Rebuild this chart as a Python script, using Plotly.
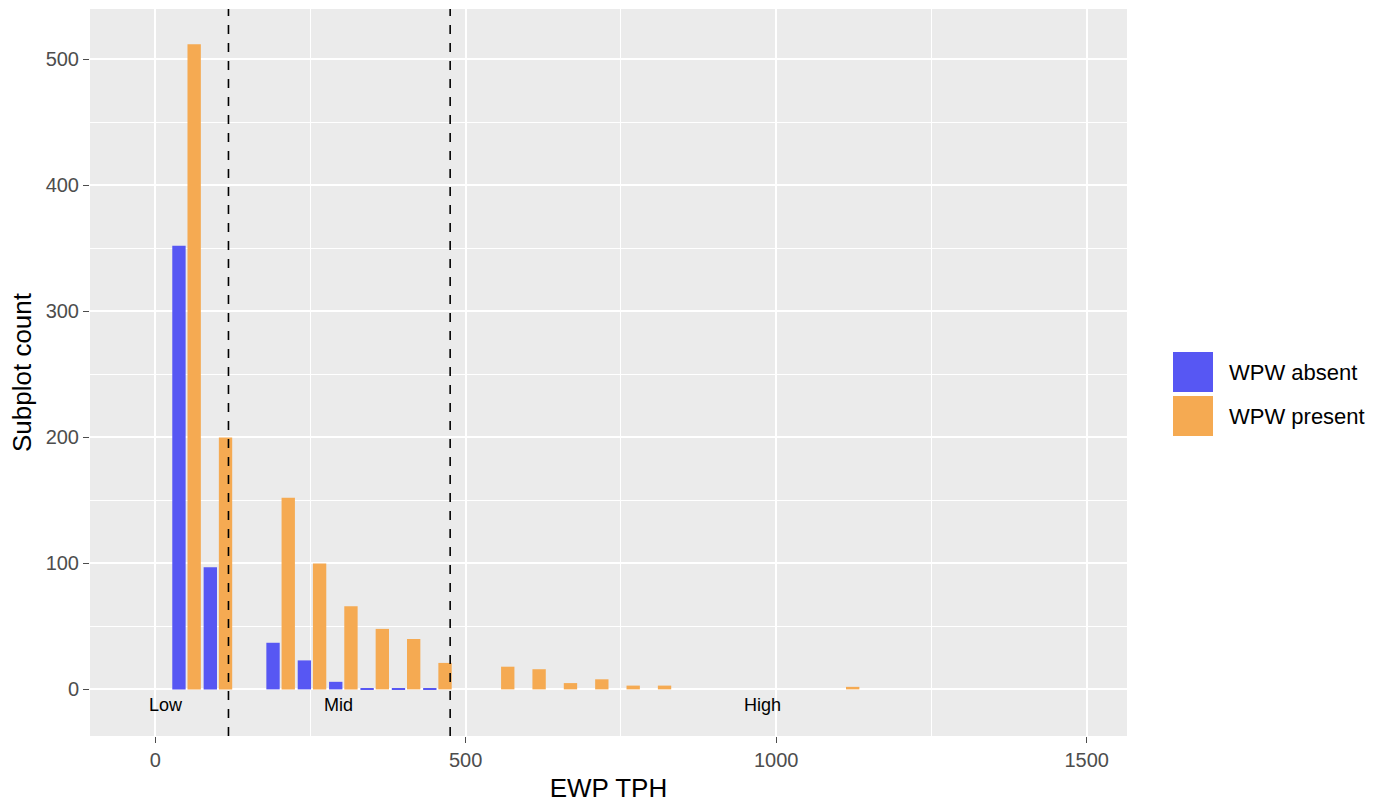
import plotly.graph_objects as go

# ---- data ----
tph_bins = [50.5, 101, 202, 252.5, 303, 353.5, 404, 454.5, 555.5, 606, 656.5, 707, 757.5, 808, 1111]
wpw_absent = [352, 97, 37, 23, 6, 1, 1, 1, 0, 0, 0, 0, 0, 0, 0]
wpw_present = [512, 200, 152, 100, 66, 48, 40, 21, 18, 16, 5, 8, 3, 3, 2]
series_names = ["WPW absent", "WPW present"]
series_colors = ["#5757F3", "#F5AA52"]
class_breaks = [118, 475]
class_labels = ["Low", "Mid", "High"]
class_label_x = [17, 295, 978]
x_ticks = [0, 500, 1000, 1500]
y_ticks = [0, 100, 200, 300, 400, 500]

FONT = "Liberation Sans, Arial, sans-serif"

fig = go.Figure()
fig.add_trace(go.Bar(x=tph_bins, y=wpw_absent, name=series_names[0],
                     marker=dict(color=series_colors[0], line=dict(width=0)),
                     offset=-23, width=21.5, showlegend=False))
fig.add_trace(go.Bar(x=tph_bins, y=wpw_present, name=series_names[1],
                     marker=dict(color=series_colors[1], line=dict(width=0)),
                     offset=1.5, width=21.5, showlegend=False))

for xb in class_breaks:
    fig.add_shape(type="line", x0=xb, x1=xb, y0=0, y1=1, xref="x", yref="paper",
                  line=dict(color="black", width=1.6, dash="dash"), layer="above")

for lab, lx in zip(class_labels, class_label_x):
    fig.add_annotation(x=lx, y=-12, text=lab, showarrow=False, xref="x", yref="y",
                       font=dict(family=FONT, size=18, color="black"))

# custom legend (ggplot-style large keys)
key_px = 40
fig_w, fig_h = 1391, 811
ml, mr, mt, mb = 90, 264, 9, 75
pw, ph = fig_w - ml - mr, fig_h - mt - mb
def px_to_paper(xp, yp):
    return (xp - ml) / pw, 1 - (yp - mt) / ph
key_tops = [352, 396]
for name, col, top in zip(series_names, series_colors, key_tops):
    x0, y0 = px_to_paper(1173, top)
    x1, y1 = px_to_paper(1173 + key_px, top + key_px)
    fig.add_shape(type="rect", xref="paper", yref="paper", x0=x0, x1=x1, y0=y1, y1=y0,
                  fillcolor=col, line=dict(width=0))
    tx, ty = px_to_paper(1227, top + key_px / 2)
    fig.add_annotation(xref="paper", yref="paper", x=tx, y=ty, text=name, showarrow=False,
                       xanchor="left", yanchor="middle",
                       font=dict(family=FONT, size=22, color="black"))

fig.update_layout(
    width=fig_w, height=fig_h,
    margin=dict(l=ml, r=mr, t=mt, b=mb, pad=0),
    paper_bgcolor="white", plot_bgcolor="#EBEBEB",
    barmode="overlay",
    font=dict(family=FONT),
    xaxis=dict(range=[-105, 1565], tickvals=x_ticks, ticktext=[str(v) for v in x_ticks],
               showgrid=True, gridcolor="white", gridwidth=2.2, zeroline=False,
               ticks="outside", ticklen=6, tickwidth=1.2, tickcolor="#4D4D4D",
               tickfont=dict(size=20, color="#4D4D4D", family=FONT),
               minor=dict(tickvals=[250, 750, 1250], showgrid=True, gridcolor="white", gridwidth=1.1, ticks=""),
               title=dict(text="EWP TPH", font=dict(size=26, color="black", family=FONT), standoff=8)),
    yaxis=dict(range=[-37, 540], tickvals=y_ticks, ticktext=[str(v) for v in y_ticks],
               showgrid=True, gridcolor="white", gridwidth=2.2, zeroline=False,
               ticks="outside", ticklen=6, tickwidth=1.2, tickcolor="#4D4D4D",
               tickfont=dict(size=20, color="#4D4D4D", family=FONT),
               minor=dict(tickvals=[50, 150, 250, 350, 450], showgrid=True, gridcolor="white", gridwidth=1.1, ticks=""),
               title=dict(text="Subplot count", font=dict(size=26, color="black", family=FONT), standoff=6)),
)

fig.write_html("out.html")
